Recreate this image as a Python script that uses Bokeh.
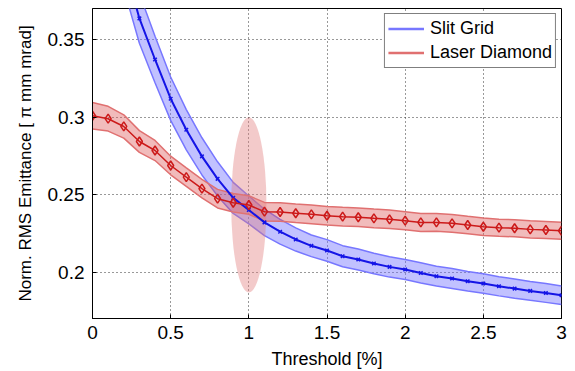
from bokeh.plotting import figure
from bokeh.models import Range1d, FixedTicker, Legend, LegendItem
from bokeh.embed import file_html
from bokeh.resources import INLINE

# ---- data ----
laser_x = [round(0.1 * i, 1) for i in range(31)]
laser_y = [0.3008, 0.2989, 0.2939, 0.2842, 0.2784, 0.2687, 0.2612, 0.2538, 0.2473, 0.2447,
           0.2432, 0.2389, 0.2387, 0.2379, 0.2372, 0.2363, 0.2357, 0.2353, 0.2346, 0.2340,
           0.2331, 0.2320, 0.2320, 0.2314, 0.2303, 0.2292, 0.2286, 0.2282, 0.2275, 0.2271, 0.2266]
laser_err = [0.0085, 0.008, 0.0075, 0.007, 0.0065, 0.006, 0.006, 0.006, 0.006, 0.006,
             0.006, 0.006, 0.006, 0.006, 0.006, 0.006, 0.006, 0.006, 0.006, 0.006,
             0.0058, 0.0058, 0.0057, 0.0057, 0.0056, 0.0056, 0.0055, 0.0055, 0.0055, 0.0055, 0.0055]

slit_x = [round(0.1 * i, 1) for i in range(2, 31)]
slit_y = [0.400, 0.3636, 0.3371, 0.3118, 0.2918, 0.2746, 0.2601, 0.2478, 0.2400, 0.2320,
          0.2260, 0.2210, 0.2169, 0.2139, 0.2102, 0.2081, 0.2055, 0.2033, 0.2016, 0.1994,
          0.1973, 0.1958, 0.1940, 0.1926, 0.1908, 0.1893, 0.1878, 0.1865, 0.1850]
slit_err = [0.017, 0.016, 0.015, 0.014, 0.013, 0.012, 0.011, 0.010, 0.009, 0.0085,
            0.008, 0.0075, 0.007, 0.007, 0.0068, 0.0068, 0.0066, 0.0066, 0.0065, 0.0065,
            0.0064, 0.0064, 0.0063, 0.0063, 0.0062, 0.0062, 0.0061, 0.0061, 0.006]

ellipse_x = [1.0]
ellipse_y = [0.2433]
ellipse_w = [0.225]
ellipse_h = [0.113]

x_ticks = [0, 0.5, 1, 1.5, 2, 2.5, 3]
x_tick_labels = ["0", "0.5", "1", "1.5", "2", "2.5", "3"]
y_ticks = [0.2, 0.25, 0.3, 0.35]
y_tick_labels = ["0.2", "0.25", "0.3", "0.35"]

FONT = "Liberation Sans"

p = figure(width=575, height=371, output_backend="svg", toolbar_location=None,
           x_range=Range1d(0, 3), y_range=Range1d(0.17, 0.37),
           min_border_left=92, min_border_right=14, min_border_top=8, min_border_bottom=53)

p.outline_line_color = "black"
p.outline_line_width = 1
p.background_fill_color = "white"
p.border_fill_color = "white"

# bands
l_up = [y + e for y, e in zip(laser_y, laser_err)]
l_lo = [y - e for y, e in zip(laser_y, laser_err)]
s_up = [y + e for y, e in zip(slit_y, slit_err)]
s_lo = [y - e for y, e in zip(slit_y, slit_err)]

p.varea(x=slit_x, y1=s_lo, y2=s_up, fill_color="#6b6bff", fill_alpha=0.42)
p.line(slit_x, s_up, line_color="#7777ff", line_width=1.5)
p.line(slit_x, s_lo, line_color="#7777ff", line_width=1.5)

p.varea(x=laser_x, y1=l_lo, y2=l_up, fill_color="#dd5555", fill_alpha=0.4)
p.line(laser_x, l_up, line_color="#e07070", line_width=1.5)
p.line(laser_x, l_lo, line_color="#e07070", line_width=1.5)

# highlight ellipse
p.ellipse(x=ellipse_x, y=ellipse_y, width=ellipse_w, height=ellipse_h,
          fill_color="#e07a7a", fill_alpha=0.4, line_color=None)

# main lines
p.line(slit_x, slit_y, line_color="#1414e6", line_width=2)
p.scatter(slit_x, slit_y, marker="x", size=5, line_color="#1414e6", line_width=1.5)
p.line(laser_x, laser_y, line_color="#cc1a1a", line_width=1.5)
p.scatter(laser_x, laser_y, marker="diamond", size=9, fill_color=None,
          line_color="#cc1a1a", line_width=1.5)

# legend proxies
r_slit = p.line([0], [1], line_color="#7777ff", line_width=2.5)
r_laser = p.line([0], [1], line_color="#e07070", line_width=2.5)
legend = Legend(items=[LegendItem(label="Slit Grid", renderers=[r_slit]),
                       LegendItem(label="Laser Diamond", renderers=[r_laser])],
                location="top_right")
legend.margin = 5
legend.padding = 3
legend.spacing = 1
legend.glyph_width = 36
legend.glyph_height = 23
legend.label_standoff = 6
legend.label_text_font = FONT
legend.label_text_font_size = "18px"
legend.label_text_color = "black"
legend.border_line_color = "black"
legend.border_line_width = 1
legend.background_fill_alpha = 1
p.add_layout(legend)

# axes & grid
p.xaxis.ticker = FixedTicker(ticks=x_ticks)
p.yaxis.ticker = FixedTicker(ticks=y_ticks)
p.xaxis.major_label_overrides = {t: l for t, l in zip(x_ticks, x_tick_labels)}
p.yaxis.major_label_overrides = {t: l for t, l in zip(y_ticks, y_tick_labels)}
p.xaxis.axis_label = "Threshold [%]"
p.yaxis.axis_label = "Norm. RMS Emittance [ \u03c0 mm mrad]"
for ax in (p.xaxis[0], p.yaxis[0]):
    ax.axis_label_text_font = FONT
    ax.axis_label_text_font_style = "normal"
    ax.axis_label_text_color = "black"
    ax.major_label_text_font = FONT
    ax.major_label_text_font_size = "19px"
    ax.major_label_text_color = "black"
    ax.axis_line_color = "black"
    ax.major_tick_in = 4
    ax.major_tick_out = 0
    ax.minor_tick_line_color = None
    ax.major_tick_line_color = "black"
p.xaxis.axis_label_text_font_size = "18px"
p.yaxis.axis_label_text_font_size = "17px"
p.xaxis.axis_label_standoff = 7
p.yaxis.axis_label_standoff = 10
p.xaxis.major_label_standoff = 7
p.yaxis.major_label_standoff = 8

p.grid.grid_line_color = "#333333"
p.grid.grid_line_dash = "1 3"
p.grid.grid_line_width = 1

open("out.html", "w").write(file_html(p, INLINE))
